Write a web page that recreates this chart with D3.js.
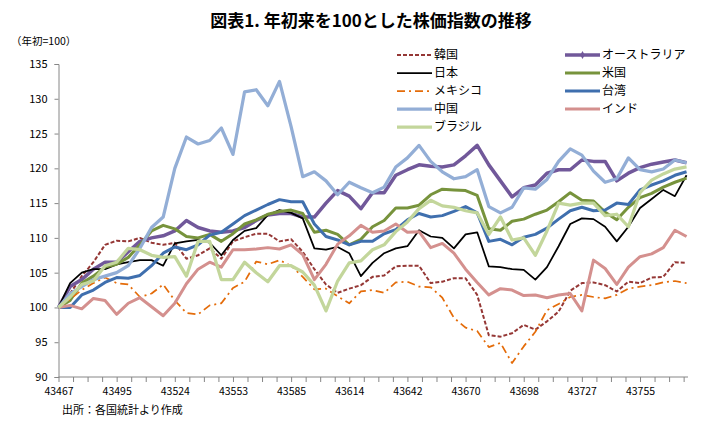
<!DOCTYPE html>
<html>
<head>
<meta charset="utf-8">
<script src="https://cdn.jsdelivr.net/npm/d3@7"></script>
<style>
  body { margin: 0; background: #fff; }
  svg { font-family: "Noto Sans CJK JP", "Noto Sans", sans-serif; }
</style>
</head>
<body>
<svg id="chart" width="722" height="426"></svg>
<script>
// category labels (Excel date serials, one every 20 trading days)
var dateLabels = [43467, 43495, 43524, 43553, 43585, 43614, 43642, 43670, 43698, 43727, 43755]
var nDays = 217
var step = 4 // values every 4th trading day

var yTicks = [90, 95, 100, 105, 110, 115, 120, 125, 130, 135]

var korea = [100,102,104.5,106.5,109,109.6,109.5,110,109.3,109,109.3,107,107.5,108.5,107,109.5,110.1,110.6,110.6,109.5,109.8,108,105.5,103.3,102.1,102.7,103.2,104.4,104.6,105.9,106,106,103.5,103.7,104.2,104.2,101.8,96,95.8,96.3,97.5,96.8,98,99.4,102.4,103.5,103.6,103.2,102.3,103.7,103.5,104.3,104.4,106.5,106.4]
var japan = [100,103.5,105,105.5,105.5,106.2,106.5,106.8,106.8,106,109.2,109.5,109.7,109.3,107.5,109.7,111,111.4,113.3,114,113.6,112.8,108.5,108.3,108.7,107.8,104.5,106.4,107.8,108.5,108.8,111.1,110.2,110,108.5,110.5,110.8,105.9,105.8,105.5,105.4,104,105.8,108.8,112,112.8,112.7,111.6,109.5,111.6,114.3,115.6,116.9,116,119]
var mexico = [100,101.2,102.5,103.5,104.3,103.5,103.3,101.5,102,103.3,101,99.2,99,100.3,100.6,102.8,103.7,106.6,106.2,106.8,106,104.4,102.6,102.7,101.6,100.6,102.3,102.5,102.1,103.6,103.7,103,102.9,101.4,98.5,97.1,96.6,94.3,94.9,92,94.4,96.5,99.6,100.5,101.5,101.8,101.5,101.3,101.8,102.7,103,103.2,103.6,103.8,103.5]
var china = [100,102,103,104,104.5,105,106,108.5,111.5,113,120,124.5,123.5,124,125.8,122,131,131.3,129,132.5,126,118.8,119.5,118.2,116.2,118,117.2,116.5,117.3,120.2,121.5,123.3,121,119.5,118.5,118.8,119.8,114.5,113.6,114.4,117.2,117,118.4,121,122.8,121.9,119.6,118,118.5,121.5,119.8,119.5,119.9,121.2,120.8]
var brazil = [100,101.5,103.3,103.8,106,106.5,108.5,108.3,107.5,107.2,107.3,104.5,109.5,109.5,104,104,106.5,105,103.7,106,106,105.1,103.2,99.5,103.8,106.4,106.7,108.3,109,110.9,112.3,114.2,115.4,114.6,114.4,113.9,113.6,110.5,113,109.7,110,107.5,111,115,114.7,115,115,113.2,113.4,111.6,116.5,118.3,119.2,119.9,120.2]
var australia = [100,103,104,105.5,106.5,106.5,108,109.5,110,110.3,111,112.5,111.5,111,110.8,111,111.5,112.5,113.3,113.5,113.5,113,113,115,116.8,116,114.2,116.5,116.5,119,119.8,120.5,120.3,120.2,120.5,121.8,123.3,120.5,118.2,115.9,117.2,117.6,119.3,119.8,119.8,121.2,121,121,118.2,119.3,120.1,120.6,120.9,121.2,120.8]
var usa = [100,101,103.5,104.5,105.8,106.2,107.2,109,111,111.8,111.3,110.2,110,110.5,109.5,110.6,112,112.6,113.4,113.8,114,113.5,110.8,111.1,110.5,109,109.8,111.6,112.5,114.3,114.3,114.7,116.2,117,116.9,116.8,116.1,111.3,111.1,112.4,112.7,113.4,114,115.2,116.5,115.4,115.3,113.7,112.6,114.4,115.8,116.4,117.3,118,118.6]
var taiwan = [100,100,101.8,102.5,103.6,104.3,104.2,104.6,106,107.8,108.7,108.3,109,110.4,110.8,112,113.2,114,114.8,115.5,115.2,115.2,112,110.2,109.7,109,109.5,109.5,110.6,111.2,112.6,113.5,113,113.2,113.8,114.5,113.6,109.5,109.8,109,110.1,110.5,111.4,112.7,113.9,114.4,113.9,114,115,114.8,116.9,117.6,118.2,119,119.5]
var india = [100,100.3,99.8,101.3,101,99,100.6,101.4,100.1,98.8,100.6,103.4,105.5,106.5,105.8,108.3,108.3,108.4,108.6,108.4,109,107.6,104,106.2,109.1,110.3,111.8,110.8,111,112,110.8,110.9,108.6,109.2,107.8,105.5,103.6,101.8,102.7,102.5,101.7,101.8,101.4,101.8,102,99.5,106.8,105.6,103.3,105.8,107.3,107.7,108.6,111.1,110.2]

// drawing order follows the Excel series order (legend read row by row)
var series = [
  { name: '韓国', values: korea, color: '#953735', width: 2, dash: '4,2' },
  { name: 'オーストラリア', values: australia, color: '#71589a', width: 3.5, marker: true },
  { name: '日本', values: japan, color: '#000000', width: 1.75 },
  { name: '米国', values: usa, color: '#77933c', width: 3 },
  { name: 'メキシコ', values: mexico, color: '#e46c0a', width: 1.75, dash: '8,4,2,4' },
  { name: '台湾', values: taiwan, color: '#3f6fae', width: 3 },
  { name: '中国', values: china, color: '#93aed6', width: 3.25 },
  { name: 'インド', values: india, color: '#d4908e', width: 3 },
  { name: 'ブラジル', values: brazil, color: '#c3d69b', width: 3.25 },
]

// legend layout: two columns as in the original
var legendCols = [
  ['韓国', '日本', 'メキシコ', '中国', 'ブラジル'],
  ['オーストラリア', '米国', '台湾', 'インド'],
]

var svg = d3.select('#chart')

var x = d3.scaleLinear().domain([0, nDays - 0.5]).range([58.5, 688])
var y = d3.scaleLinear().domain([90, 135]).range([377, 64])

// title + notes
svg.append('text')
  .attr('x', 371).attr('y', 27)
  .attr('text-anchor', 'middle')
  .attr('font-size', 17).attr('font-weight', 'bold')
  .text('図表1. 年初来を100とした株価指数の推移')

svg.append('text')
  .attr('x', 11).attr('y', 45)
  .attr('font-size', 10.5)
  .text('（年初=100）')

svg.append('text')
  .attr('x', 62).attr('y', 414)
  .attr('font-size', 11)
  .text('出所：各国統計より作成')

// axes
var yAxis = svg.append('g')
  .attr('transform', 'translate(58.5,0)')
  .call(d3.axisLeft(y).tickValues(yTicks).tickSize(4).tickPadding(7).tickFormat(d3.format('d')))

var xAxis = svg.append('g')
  .attr('transform', 'translate(0,377)')
  .call(
    d3.axisBottom(x)
      .tickValues(d3.range(0, nDays, 5))
      .tickSize(5)
      .tickPadding(6)
      .tickFormat((d) => (d % 20 == 0 ? dateLabels[d / 20] : ''))
  )

;[yAxis, xAxis].forEach((g) => {
  g.select('.domain').attr('stroke', '#868686')
  g.selectAll('.tick line').attr('stroke', '#868686')
  g.selectAll('.tick text').attr('fill', '#000')
    .attr('font-family', '"Noto Sans CJK JP", sans-serif')
})
yAxis.selectAll('.tick text').attr('font-size', 11)
xAxis.selectAll('.tick text').attr('font-size', 10.5)
// x-axis line runs from the y axis to the right edge
xAxis.select('.domain').attr('d', 'M58.5,0H688')

// lines
var line = d3.line()
  .x((d, i) => x(i * step))
  .y((d) => y(d))

var plot = svg.append('g')
series.forEach((s) => {
  plot.append('path')
    .datum(s.values)
    .attr('fill', 'none')
    .attr('stroke', s.color)
    .attr('stroke-width', s.width)
    .attr('stroke-linejoin', 'round')
    .attr('stroke-dasharray', s.dash || null)
    .attr('d', line)
})

// legend
var byName = {}
series.forEach((s) => (byName[s.name] = s))
var legendX = [397, 565]
legendCols.forEach((col, ci) => {
  col.forEach((name, ri) => {
    var s = byName[name]
    var ly = 55 + ri * 18
    var g = svg.append('g').attr('transform', `translate(${legendX[ci]},${ly})`)
    g.append('line')
      .attr('x1', 0).attr('x2', 35).attr('y1', 0).attr('y2', 0)
      .attr('stroke', s.color)
      .attr('stroke-width', s.width)
      .attr('stroke-dasharray', s.dash || null)
    if (s.marker) {
      g.append('path')
        .attr('d', d3.symbol(d3.symbolDiamond, 18)())
        .attr('transform', 'translate(17.5,0)')
        .attr('fill', s.color)
    }
    g.append('text')
      .attr('x', 37).attr('y', 0).attr('dy', '0.36em')
      .attr('font-size', 12)
      .text(name)
  })
})
</script>
</body>
</html>
